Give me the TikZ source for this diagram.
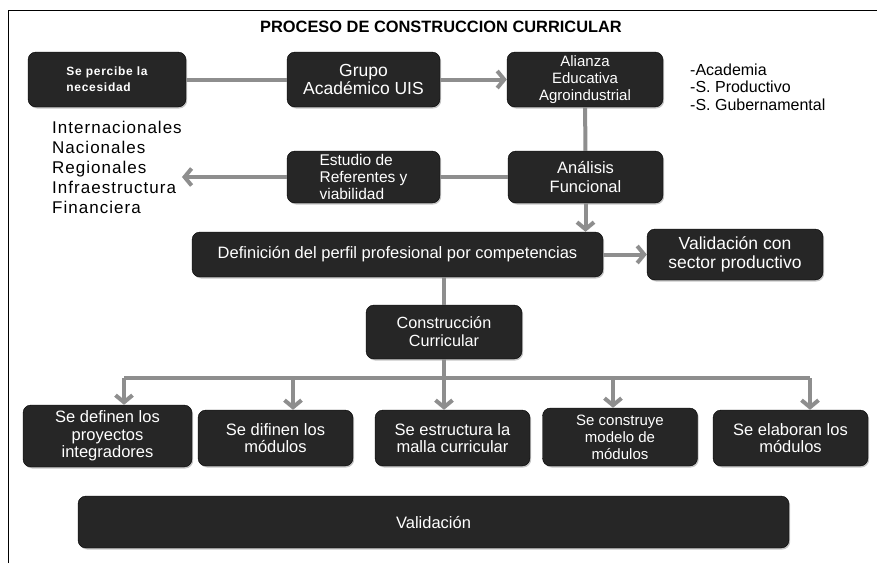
\documentclass[tikz,border=0pt]{standalone}
\usepackage{fontspec}
\setmainfont{Liberation Sans}
\newfontfamily\espaciada[LetterSpace=6]{Liberation Sans}
\usetikzlibrary{positioning,shadows,arrows.meta}
\definecolor{fondocaja}{HTML}{262626}
\definecolor{gris}{HTML}{8E8E8E}

\begin{document}
\begin{tikzpicture}[x=1pt,y=1pt]
    \tikzstyle{caja}=[rectangle,rounded corners=8,draw=black,fill=fondocaja,text=white,align=center,inner sep=2,
        drop shadow={shadow xshift=1.2pt,shadow yshift=-1.5pt,fill=black!45,opacity=0.5},
        font=\fontsize{16.5}{18}\selectfont]
    \tikzstyle{nota}=[draw=none,fill=none,align=left,inner sep=0]
    \tikzstyle{linea}=[draw=gris,line width=4]
    \tikzstyle{flecha}=[linea,-{Straight Barb[length=7,width=17]}]
    \useasboundingbox (0,0) rectangle (877,-563);
    \draw[line width=1] (8,-563) -- (8,-10) -- (877,-10);
    \node[nota,font=\fontsize{16.4}{18}\selectfont\bfseries] (titulo) at (441,-27) {PROCESO DE CONSTRUCCION CURRICULAR};

    \node[caja,minimum width=158,minimum height=55,align=left,font=\fontsize{12}{16}\selectfont\espaciada\bfseries] (necesidad) at (107,-79.5)
        {Se percibe la\\necesidad};
    \node[caja,minimum width=153,minimum height=55,font=\fontsize{17.5}{18.5}\selectfont] (grupo) at (363.5,-79.5) {Grupo\\Académico UIS};
    \node[caja,minimum width=156,minimum height=55,font=\fontsize{15}{17}\selectfont] (alianza) at (585,-79.5) {Alianza\\Educativa\\Agroindustrial};
    \node[nota,anchor=west,font=\fontsize{16}{17.5}\selectfont] (sectores) at (690,-87) {-Academia\\-S. Productivo\\-S. Gubernamental};

    \node[nota,anchor=west,font=\fontsize{17}{20}\selectfont\espaciada] (referentes) at (52,-167)
        {Internacionales\\Nacionales\\Regionales\\Infraestructura\\Financiera};
    \node[caja,minimum width=153,minimum height=52,align=left,font=\fontsize{15.5}{17}\selectfont] (estudio) at (363.5,-177)
        {Estudio de\\Referentes y\\viabilidad};
    \node[caja,minimum width=155,minimum height=52] (analisis) at (585.5,-177) {Análisis\\Funcional};

    \node[caja,minimum width=411,minimum height=45] (definicion) at (397.5,-254.5) {Definición del perfil profesional por competencias};
    \node[caja,minimum width=176,minimum height=51,font=\fontsize{17.5}{18.5}\selectfont] (sector) at (735,-254.5) {Validación con\\sector productivo};

    \node[caja,minimum width=156,minimum height=54,font=\fontsize{16.2}{18}\selectfont] (construccion) at (444,-332) {Construcción\\Curricular};

    \tikzstyle{paso}=[caja,minimum width=155,minimum height=56,font=\fontsize{16.5}{17.5}\selectfont]
    \node[paso,minimum width=169,minimum height=62] (proyectos) at (107.5,-436) {Se definen los\\proyectos\\integradores};
    \node[paso] (modulos) at (275.5,-438) {Se difinen los\\módulos};
    \node[paso] (malla) at (452.5,-438) {Se estructura la\\malla curricular};
    \node[paso,minimum height=58,font=\fontsize{15}{17}\selectfont] (modelo) at (620,-437) {Se construye\\modelo de\\módulos};
    \node[paso] (elaboran) at (790.5,-438) {Se elaboran los\\módulos};

    \node[caja,minimum width=711,minimum height=52] (validacion) at (433.5,-522) {Validación};

    \draw[linea] (necesidad) -- (grupo);
    \draw[flecha] (grupo) -- (alianza);
    \draw[linea] (alianza) -- (analisis);
    \draw[linea] (analisis) -- (estudio);
    \draw[flecha] (estudio.west) -- (estudio.west -| referentes.east);
    \draw[flecha] (analisis.south) -- (analisis.south |- definicion.north);
    \draw[flecha] (definicion) -- (sector);
    \draw[linea] (construccion.north) -- (construccion.north |- definicion.south);

    \coordinate (bus1) at (124,-378);
    \coordinate (bus2) at (293,-378);
    \coordinate (bus4) at (613,-378);
    \coordinate (bus5) at (810,-378);
    \draw[linea] (bus1) -- (bus5);
    \draw[flecha] (bus1) -- (bus1 |- proyectos.north);
    \draw[flecha] (bus2) -- (bus2 |- modulos.north);
    \draw[flecha] (construccion.south) -- (construccion.south |- malla.north);
    \draw[flecha] (bus4) -- (bus4 |- modelo.north);
    \draw[flecha] (bus5) -- (bus5 |- elaboran.north);
\end{tikzpicture}
\end{document}
